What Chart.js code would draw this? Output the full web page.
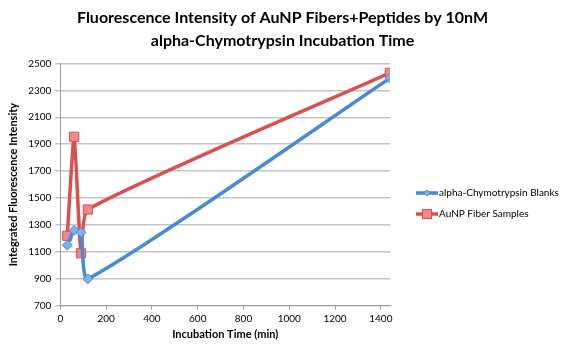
<!DOCTYPE html>
<html>
<head>
<meta charset="utf-8">
<script src="https://cdn.jsdelivr.net/npm/chart.js@4/dist/chart.umd.min.js"></script>
<style>
  html, body { margin: 0; padding: 0; background: #fff; }
  #wrap { width: 562px; height: 350px; }
</style>
</head>
<body>
<div id="wrap"><canvas id="chart" width="562" height="350"></canvas></div>
<script>
// incubation times (min) and intensities
var blankTimes = [30, 60, 90, 120, 1440];
var blankValues = [1150, 1260, 1245, 900, 2390];
var fiberTimes = [30, 60, 90, 120, 1440];
var fiberValues = [1220, 1955, 1090, 1415, 2430];

var xTicks = [0, 200, 400, 600, 800, 1000, 1200, 1400];
var yTicks = [700, 900, 1100, 1300, 1500, 1700, 1900, 2100, 2300, 2500];

var titleLines = ['Fluorescence Intensity of AuNP Fibers+Peptides by 10nM', 'alpha-Chymotrypsin Incubation Time'];
var seriesNames = ['alpha-Chymotrypsin Blanks', 'AuNP Fiber Samples'];

var blue = '#4a8ad0', blueFill = '#7fb2e8';
var red = '#d9504e', redFill = '#f08a88';
var fontFam = 'Lato, "Liberation Sans", sans-serif';
var legendWidth = 172;

function toPoints(xs, ys) {
  var pts = [];
  for (var i = 0; i < xs.length; i++) pts.push({x: xs[i], y: ys[i]});
  return pts;
}

// legend drawn by hand so it looks like excel: short line with the marker on it
var excelLegend = {
  id: 'excelLegend',
  afterDraw: function(chart) {
    var ctx = chart.ctx;
    var area = chart.chartArea;
    var x0 = area.right + 26;
    var y0 = 193;
    chart.data.datasets.forEach(function(ds, i) {
      var y = y0 + i * 21;
      ctx.save();
      ctx.strokeStyle = ds.borderColor;
      ctx.lineWidth = 3.5;
      ctx.beginPath();
      ctx.moveTo(x0, y);
      ctx.lineTo(x0 + 22, y);
      ctx.stroke();
      ctx.fillStyle = ds.pointBackgroundColor;
      ctx.strokeStyle = ds.pointBorderColor;
      ctx.lineWidth = 1;
      if (ds.pointStyle === 'rectRot') {
        ctx.beginPath();
        ctx.moveTo(x0 + 11, y - 3);
        ctx.lineTo(x0 + 14, y);
        ctx.lineTo(x0 + 11, y + 3);
        ctx.lineTo(x0 + 8, y);
        ctx.closePath();
        ctx.fill(); ctx.stroke();
      } else {
        ctx.fillRect(x0 + 6.5, y - 4.5, 9, 9);
        ctx.strokeRect(x0 + 6.5, y - 4.5, 9, 9);
      }
      ctx.fillStyle = '#000';
      ctx.font = '10px ' + fontFam;
      ctx.textBaseline = 'middle';
      ctx.fillText(ds.label, x0 + 23, y);
      ctx.restore();
    });
  }
};

new Chart(document.getElementById('chart'), {
  type: 'scatter',
  data: {
    datasets: [{
      label: seriesNames[0],
      data: toPoints(blankTimes, blankValues),
      showLine: true,
      tension: 0.17,
      borderColor: blue,
      borderWidth: 3.5,
      pointStyle: 'rectRot',
      pointRadius: 5,
      pointBackgroundColor: blueFill,
      pointBorderColor: blue,
      pointBorderWidth: 1
    }, {
      label: seriesNames[1],
      data: toPoints(fiberTimes, fiberValues),
      showLine: true,
      tension: 0.17,
      borderColor: red,
      borderWidth: 3.5,
      pointStyle: 'rect',
      pointRadius: 6.5,
      pointBackgroundColor: redFill,
      pointBorderColor: red,
      pointBorderWidth: 1
    }]
  },
  options: {
    responsive: false,
    animation: false,
    layout: { padding: { left: 3, right: 0, top: 2, bottom: 9 } },
    plugins: {
      legend: { display: false },
      tooltip: { enabled: false },
      title: {
        display: true,
        text: titleLines,
        color: '#000',
        font: { family: fontFam, size: 16, weight: 'bold', lineHeight: 1.45 },
        padding: { top: 4, bottom: 11 }
      }
    },
    scales: {
      x: {
        type: 'linear',
        min: 0,
        max: 1440,
        afterBuildTicks: function(scale) {
          scale.ticks = xTicks.map(function(v) { return {value: v}; });
        },
        grid: { drawOnChartArea: false, drawTicks: true, tickLength: 4, color: '#a0a0a0' },
        border: { color: '#a0a0a0', width: 1 },
        ticks: {
          color: '#000', font: { family: fontFam, size: 10 }, padding: 3, maxRotation: 0,
          callback: function(v) { return String(v); }
        },
        title: { display: true, text: 'Incubation Time (min)', color: '#000', font: { family: fontFam, size: 11, weight: 'bold' }, padding: { top: 0, bottom: 0 } }
      },
      y: {
        min: 700,
        max: 2500,
        afterBuildTicks: function(scale) {
          scale.ticks = yTicks.map(function(v) { return {value: v}; });
        },
        grid: { color: '#c4c4c4', lineWidth: 1.5, tickLength: 5 },
        border: { color: '#a0a0a0', width: 1 },
        ticks: {
          color: '#000', font: { family: fontFam, size: 10 }, padding: 4,
          callback: function(v) { return String(v); }
        },
        title: { display: true, text: 'Integrated Fluorescence Intensity', color: '#000', font: { family: fontFam, size: 11, weight: 'bold' }, padding: { bottom: 4 } }
      },
      // empty axis on the right that keeps room for the legend
      legendRoom: {
        position: 'right',
        min: 700,
        max: 2500,
        grid: { display: false },
        border: { display: false },
        ticks: { display: false },
        afterFit: function(scale) { scale.width = legendWidth; }
      }
    }
  },
  plugins: [excelLegend]
});
</script>
</body>
</html>
